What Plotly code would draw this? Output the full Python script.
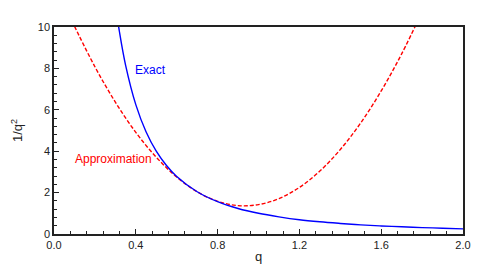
import plotly.graph_objects as go

# Exact curve samples (q, 1/q^2)
q_exact = [0.30, 0.32, 0.35, 0.40, 0.45, 0.50, 0.55, 0.60, 0.70, 0.80, 0.90,
           1.00, 1.10, 1.20, 1.30, 1.40, 1.50, 1.60, 1.70, 1.80, 1.90, 2.00]
y_exact = [11.11, 9.77, 8.16, 6.25, 4.94, 4.00, 3.31, 2.78, 2.04, 1.56, 1.23,
           1.00, 0.83, 0.69, 0.59, 0.51, 0.44, 0.39, 0.35, 0.31, 0.28, 0.25]

# Approximation curve samples
q_approx = [0.10, 0.20, 0.30, 0.40, 0.50, 0.60, 0.70, 0.80, 0.90, 1.00,
            1.10, 1.20, 1.30, 1.40, 1.50, 1.60, 1.70, 1.80]
y_approx = [10.04, 8.08, 6.37, 4.91, 3.71, 2.75, 2.04, 1.58, 1.37, 1.42,
            1.71, 2.25, 3.04, 4.08, 5.37, 6.91, 8.70, 10.74]

x_ticks = [0.0, 0.4, 0.8, 1.2, 1.6, 2.0]
x_ticklabels = ["0.0", "0.4", "0.8", "1.2", "1.6", "2.0"]
y_ticks = [0, 2, 4, 6, 8, 10]

font_family = "Liberation Sans, Arial, sans-serif"

fig = go.Figure()
fig.add_trace(go.Scatter(x=q_approx, y=y_approx, mode="lines", line_shape="spline",
                         line=dict(color="#ff0000", width=1.4, dash="4px,2px"),
                         name="Approximation", showlegend=False, cliponaxis=True))
fig.add_trace(go.Scatter(x=q_exact, y=y_exact, mode="lines", line_shape="spline",
                         line=dict(color="#0000ff", width=1.4),
                         name="Exact", showlegend=False, cliponaxis=True))

fig.add_annotation(x=0.47, y=7.94, text="Exact", showarrow=False,
                   font=dict(color="#0000ff", size=12, family=font_family))
fig.add_annotation(x=0.29, y=3.62, text="Approximation", showarrow=False,
                   font=dict(color="#ff0000", size=12, family=font_family))

axis_common = dict(showgrid=False, zeroline=False, showline=True, linecolor="#222222",
                   linewidth=1.5, mirror=True, ticks="inside", ticklen=5, tickcolor="#222222",
                   automargin=False,
                   tickfont=dict(size=11, family=font_family, color="#222222"))

fig.update_xaxes(range=[0, 2], tickvals=x_ticks, ticktext=x_ticklabels,
                 minor=dict(dtick=0.08, ticks="inside", ticklen=3, tickcolor="#222222"),
                 title=dict(text="q", font=dict(size=13, family=font_family, color="#222222"), standoff=2),
                 **axis_common)
fig.update_yaxes(range=[0, 10], tickvals=y_ticks,
                 minor=dict(dtick=0.4, ticks="inside", ticklen=3, tickcolor="#222222"),
                 title=dict(text="1/q<sup>2</sup>", font=dict(size=13, family=font_family, color="#222222"), standoff=12),
                 **axis_common)

fig.update_layout(width=491, height=271, margin=dict(l=54, r=28, t=27, b=37),
                  paper_bgcolor="white", plot_bgcolor="white", showlegend=False)

fig.write_html("out.html", config={"displayModeBar": False},
               post_script="document.body.style.margin='0';document.body.style.overflow='hidden';")
